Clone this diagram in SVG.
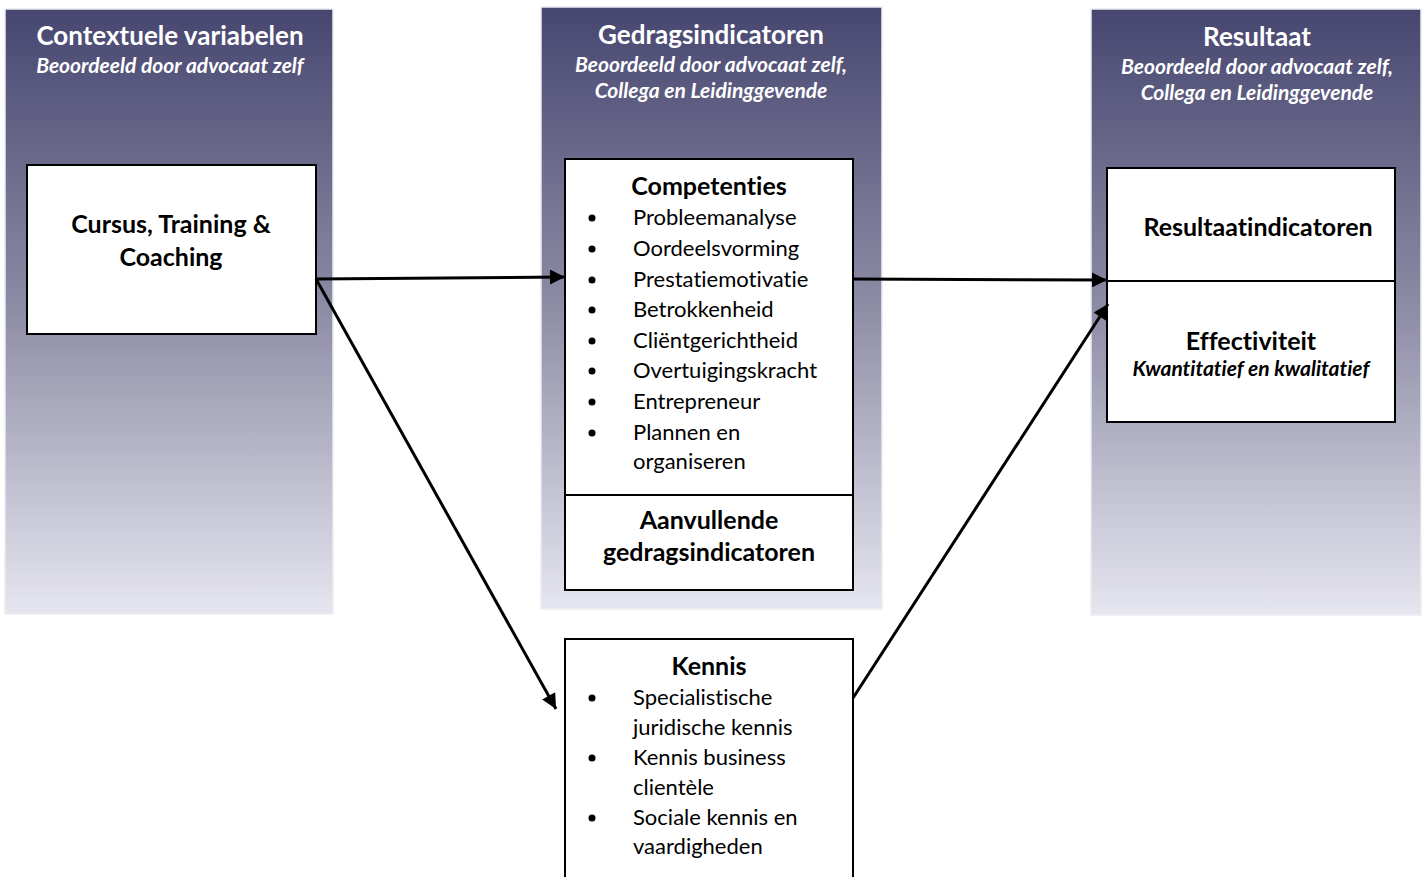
<svg xmlns="http://www.w3.org/2000/svg" width="1428" height="877" viewBox="0 0 1428 877">
<style>
text{font-family:Lato,"Liberation Sans",sans-serif;font-variant-ligatures:none}
.panel{stroke:#ececf2;stroke-width:1.5}
.box{fill:#fff;stroke:#000;stroke-width:2}
.div{stroke:#000;stroke-width:2}
.h{font-weight:bold;font-size:26px;fill:#fff;text-anchor:middle}
.s{font-weight:bold;font-style:italic;font-size:21px;fill:#fff;text-anchor:middle}
.t{font-weight:bold;font-size:25px;fill:#000;text-anchor:middle}
.ti{font-weight:bold;font-style:italic;font-size:21px;fill:#000;text-anchor:middle}
.li{font-size:22px;fill:#000}
.b{fill:#000}
.con{stroke:#000;stroke-width:3;fill:none}
</style>
<defs>
<linearGradient id="g" x1="0" y1="0" x2="0" y2="1">
<stop offset="0" stop-color="#474670"/>
<stop offset="0.5" stop-color="#8e8da6"/>
<stop offset="1" stop-color="#e6e6f0"/>
</linearGradient>
<marker id="arr" viewBox="0 0 10 10" refX="10" refY="5" markerWidth="5.5" markerHeight="5" orient="auto" markerUnits="strokeWidth">
<path d="M0,0 L10,5 L0,10 Z" fill="#000"/>
</marker>
</defs>
<rect width="1428" height="877" fill="#fff"/>

<g id="panel-context">
<rect class="panel" x="5" y="9" width="328" height="605" fill="url(#g)"/>
<text class="h" x="170" y="45">Contextuele variabelen</text>
<text class="s" x="170" y="73">Beoordeeld door advocaat zelf</text>
</g>
<g id="panel-gedrag">
<rect class="panel" x="541" y="7" width="341" height="602" fill="url(#g)"/>
<text class="h" x="711" y="44">Gedragsindicatoren</text>
<text class="s" x="711" y="72">Beoordeeld door advocaat zelf,</text>
<text class="s" x="711" y="98">Collega en Leidinggevende</text>
</g>
<g id="panel-resultaat">
<rect class="panel" x="1091" y="9" width="330" height="606" fill="url(#g)"/>
<text class="h" x="1257" y="46">Resultaat</text>
<text class="s" x="1257" y="74">Beoordeeld door advocaat zelf,</text>
<text class="s" x="1257" y="100">Collega en Leidinggevende</text>
</g>

<g id="node-cursus">
<rect class="box" x="27" y="165" width="289" height="169"/>
<text class="t" x="171" y="233">Cursus, Training &amp;</text>
<text class="t" x="171" y="266">Coaching</text>
</g>

<g id="node-competenties">
<rect class="box" x="565" y="159" width="288" height="431"/>
<line class="div" x1="565" y1="495" x2="853" y2="495"/>
<text class="t" x="709" y="195">Competenties</text>
<circle class="b" cx="592" cy="218" r="3.5"/><text class="li" x="633" y="225">Probleemanalyse</text>
<circle class="b" cx="592" cy="249" r="3.5"/><text class="li" x="633" y="256">Oordeelsvorming</text>
<circle class="b" cx="592" cy="280" r="3.5"/><text class="li" x="633" y="287">Prestatiemotivatie</text>
<circle class="b" cx="592" cy="310" r="3.5"/><text class="li" x="633" y="317">Betrokkenheid</text>
<circle class="b" cx="592" cy="341" r="3.5"/><text class="li" x="633" y="348">Cliëntgerichtheid</text>
<circle class="b" cx="592" cy="371" r="3.5"/><text class="li" x="633" y="378">Overtuigingskracht</text>
<circle class="b" cx="592" cy="402" r="3.5"/><text class="li" x="633" y="409">Entrepreneur</text>
<circle class="b" cx="592" cy="433" r="3.5"/><text class="li" x="633" y="440">Plannen en</text>
<text class="li" x="633" y="469">organiseren</text>
<text class="t" x="709" y="529">Aanvullende</text>
<text class="t" x="709" y="561">gedragsindicatoren</text>
</g>

<g id="node-kennis">
<rect class="box" x="565" y="639" width="288" height="260"/>
<text class="t" x="709" y="675">Kennis</text>
<circle class="b" cx="592" cy="698" r="3.5"/><text class="li" x="633" y="705">Specialistische</text>
<text class="li" x="633" y="735">juridische kennis</text>
<circle class="b" cx="592" cy="758" r="3.5"/><text class="li" x="633" y="765">Kennis business</text>
<text class="li" x="633" y="795">clientèle</text>
<circle class="b" cx="592" cy="818" r="3.5"/><text class="li" x="633" y="825">Sociale kennis en</text>
<text class="li" x="633" y="854">vaardigheden</text>
</g>

<g id="node-resultaat">
<rect class="box" x="1107" y="168" width="288" height="254"/>
<line class="div" x1="1107" y1="281" x2="1395" y2="281"/>
<text class="t" x="1258" y="236">Resultaatindicatoren</text>
<text class="t" x="1251" y="350">Effectiviteit</text>
<text class="ti" x="1251" y="376">Kwantitatief en kwalitatief</text>
</g>

<g id="connectors">
<line class="con" x1="316" y1="279" x2="565" y2="277" marker-end="url(#arr)"/>
<line class="con" x1="316" y1="279" x2="556" y2="709" marker-end="url(#arr)"/>
<line class="con" x1="853" y1="279" x2="1107" y2="280" marker-end="url(#arr)"/>
<line class="con" x1="853" y1="698" x2="1108" y2="304" marker-end="url(#arr)"/>
</g>
</svg>
